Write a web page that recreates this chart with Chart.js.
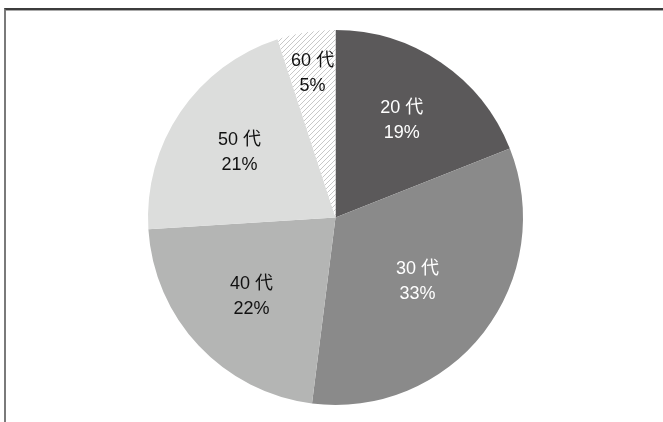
<!DOCTYPE html>
<html>
<head>
<meta charset="utf-8">
<script src="https://cdn.jsdelivr.net/npm/chart.js@4/dist/chart.umd.min.js"></script>
<style>
  html, body { margin: 0; padding: 0; background: #fff; }
  #wrap { position: relative; width: 663px; height: 422px; overflow: hidden; }
  #frame { position: absolute; left: 4px; top: 8px; right: -10px; bottom: -10px;
           border-top: 2px solid #3c3c3c; border-left: 2px solid #7a7a7a; box-sizing: border-box; }
  #frame:before { content: ""; position: absolute; left: 0; right: 0; top: 0; height: 1px; background: #aaa; }
  canvas { position: absolute; left: 0; top: 0; }
</style>
</head>
<body>
<div id="wrap">
  <div id="frame"></div>
  <canvas id="c" width="663" height="422"></canvas>
</div>
<script>
const categories = ["20 代", "30 代", "40 代", "50 代", "60 代"];
const shares = [19, 33, 22, 21, 5];
const labelColors = ["#ffffff", "#ffffff", "#111111", "#111111", "#111111"];

function hatch() {
  const s = 5;
  const t = document.createElement('canvas');
  t.width = s; t.height = s;
  const g = t.getContext('2d');
  g.fillStyle = '#ffffff';
  g.fillRect(0, 0, s, s);
  g.strokeStyle = '#c8c8c8';
  g.lineWidth = 1;
  g.beginPath();
  g.moveTo(-1, s + 1); g.lineTo(s + 1, -1);
  g.moveTo(-1, 1); g.lineTo(1, -1);
  g.moveTo(s - 1, s + 1); g.lineTo(s + 1, s - 1);
  g.stroke();
  return document.getElementById('c').getContext('2d').createPattern(t, 'repeat');
}

const fills = ["#5b595a", "#8a8a8a", "#b4b5b4", "#dcdddc", hatch()];

const labelPlugin = {
  id: 'sliceLabels',
  afterDatasetsDraw(chart) {
    const ctx = chart.ctx;
    const meta = chart.getDatasetMeta(0);
    ctx.save();
    ctx.font = '18px "Liberation Sans", "Noto Sans CJK JP", sans-serif';
    ctx.textAlign = 'center';
    ctx.textBaseline = 'middle';
    meta.data.forEach((arc, i) => {
      const p = arc.getProps(['x', 'y', 'startAngle', 'endAngle', 'outerRadius']);
      const mid = (p.startAngle + p.endAngle) / 2;
      const half = (p.endAngle - p.startAngle) / 2;
      // sector centroid distance; thin slices pushed outward
      let d = 2 * p.outerRadius * Math.sin(half) / (3 * half);
      if (shares[i] < 10) d = p.outerRadius * 0.78;
      const x = p.x + Math.cos(mid) * d;
      const y = p.y + Math.sin(mid) * d;
      ctx.fillStyle = labelColors[i];
      ctx.fillText(categories[i], x, y - 12.5);
      ctx.fillText(shares[i] + '%', x, y + 12.5);
    });
    ctx.restore();
  }
};

new Chart(document.getElementById('c'), {
  type: 'pie',
  data: {
    labels: categories,
    datasets: [{
      data: shares,
      backgroundColor: fills,
      borderWidth: 0
    }]
  },
  options: {
    responsive: false,
    animation: false,
    layout: { padding: { left: 148, right: 140, top: 30, bottom: 17 } },
    plugins: { legend: { display: false }, tooltip: { enabled: false } }
  },
  plugins: [labelPlugin]
});
</script>
</body>
</html>
